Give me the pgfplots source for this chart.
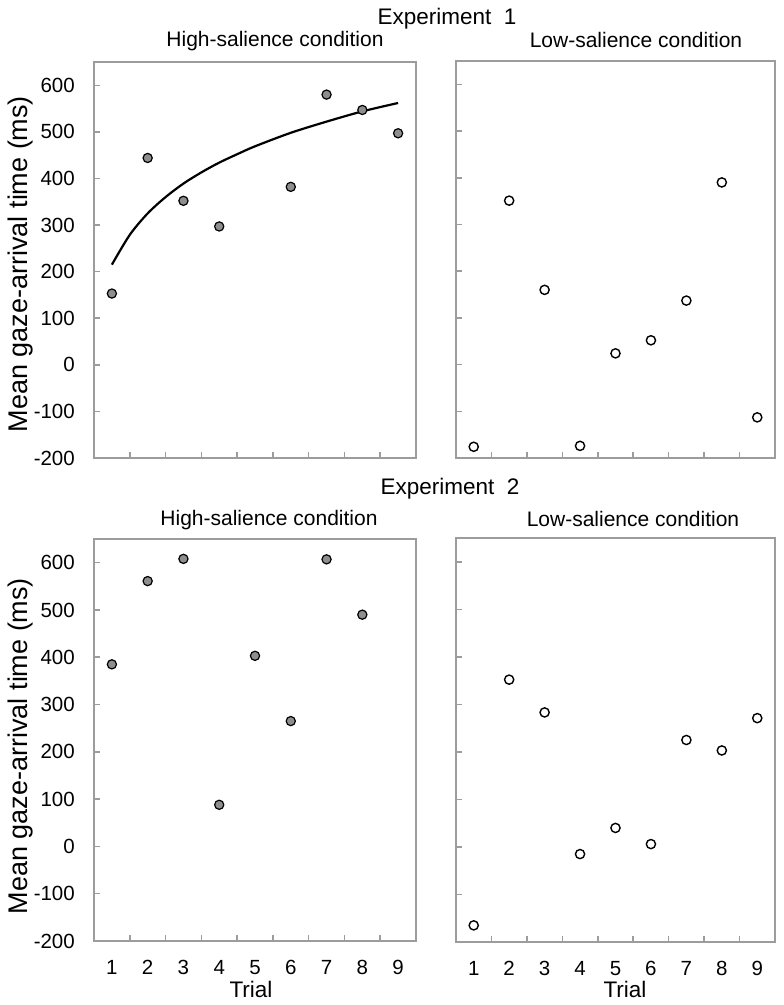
\documentclass[border=0pt]{standalone}
\usepackage{fontspec}
\setmainfont{Liberation Sans}
\usepackage{pgfplots}
\pgfplotsset{compat=1.18}

\definecolor{framegray}{HTML}{9C9C9C}
\definecolor{dotgray}{HTML}{8E8E8E}

\newcommand{\tickfont}{\fontsize{20.5}{23}\selectfont}

\pgfplotsset{
  panel/.style={
    scale only axis,
    anchor=south west,
    xmin=0.5, xmax=9.5,
    ymin=-200, ymax=650,
    axis line style={framegray, line width=1.8pt},
    xtick={1,2,3,4,5,6,7,8,9},
    minor xtick={1.5,2.5,3.5,4.5,5.5,6.5,7.5,8.5},
    ytick={-200,-100,0,100,200,300,400,500,600},
    xtick pos=bottom, ytick pos=left,
    tick align=inside,
    major x tick style={draw=none},
    minor x tick style={framegray, line width=1.5pt},
    major y tick style={framegray, line width=1.5pt},
    major tick length=6pt, minor tick length=6pt,
    xticklabels={}, yticklabels={},
    yticklabel style={font=\tickfont, anchor=east, inner sep=0pt, xshift=-19pt},
    xticklabel style={font=\tickfont, anchor=north, inner sep=0pt, yshift=-19pt},
    clip=false,
  },
  ylabs/.style={yticklabels={-200,-100,0,100,200,300,400,500,600}},
  xlabs/.style={xticklabels={1,2,3,4,5,6,7,8,9}},
  hi/.style={only marks, mark=*, mark size=4.6pt, mark options={fill=dotgray, draw=black, line width=1.2pt}},
  lo/.style={only marks, mark=*, mark size=4.6pt, mark options={fill=white, draw=black, line width=1.4pt}},
}

\begin{document}
\begin{tikzpicture}
\useasboundingbox (0,0) rectangle (784pt,1005pt);

% Experiment 1, high salience
\begin{axis}[panel, ylabs, at={(94pt,547pt)}, width=322pt, height=396pt]
\addplot[black, line width=2.2pt, smooth] coordinates {
  (1,215) (1.5,279) (2,325) (2.5,360) (3,389) (3.5,413) (4,434)
  (4.5,452) (5,469) (6,498) (7,522) (8,544) (9,562)};
\addplot[hi] coordinates {
  (1,153) (2,444) (3,352) (4,297) (6,382) (7,580) (8,547) (9,497)};
\end{axis}

% Experiment 1, low salience
\begin{axis}[panel, at={(456pt,547pt)}, width=319pt, height=397pt]
\addplot[lo] coordinates {
  (1,-176) (2,351) (3,160) (4,-174) (5,24) (6,52) (7,137) (8,390) (9,-113)};
\end{axis}

% Experiment 2, high salience
\begin{axis}[panel, ylabs, xlabs, at={(94pt,64pt)}, width=322pt, height=402pt]
\addplot[hi] coordinates {
  (1,385) (2,561) (3,608) (4,88) (5,403) (6,265) (7,607) (8,490)};
\end{axis}

% Experiment 2, low salience
\begin{axis}[panel, xlabs, at={(456pt,63pt)}, width=319pt, height=404pt]
\addplot[lo] coordinates {
  (1,-165) (2,352) (3,283) (4,-15) (5,40) (6,6) (7,225) (8,203) (9,271)};
\end{axis}

% titles and labels
\begin{scope}[every node/.style={inner sep=0pt}]
\node[anchor=base, font=\fontsize{22.5}{26}\selectfont] at (447pt,980pt) {Experiment\ \ 1};
\node[anchor=base, font=\fontsize{22.5}{26}\selectfont] at (450pt,510pt) {Experiment\ \ 2};
\node[anchor=base, font=\fontsize{21}{24}\selectfont] at (275pt,958pt) {High-salience condition};
\node[anchor=base, font=\fontsize{21}{24}\selectfont] at (636pt,957pt) {Low-salience condition};
\node[anchor=base, font=\fontsize{21}{24}\selectfont] at (269pt,479pt) {High-salience condition};
\node[anchor=base, font=\fontsize{21}{24}\selectfont] at (633pt,478pt) {Low-salience condition};
\node[anchor=base, font=\fontsize{22.5}{25}\selectfont] at (251pt,7pt) {Trial};
\node[anchor=base, font=\fontsize{22.5}{25}\selectfont] at (625pt,7pt) {Trial};
\node[rotate=90, font=\fontsize{27}{30}\selectfont] at (21pt,741pt) {Mean gaze-arrival time (ms)};
\node[rotate=90, font=\fontsize{27}{30}\selectfont] at (21pt,259pt) {Mean gaze-arrival time (ms)};
\end{scope}
\end{tikzpicture}
\end{document}
